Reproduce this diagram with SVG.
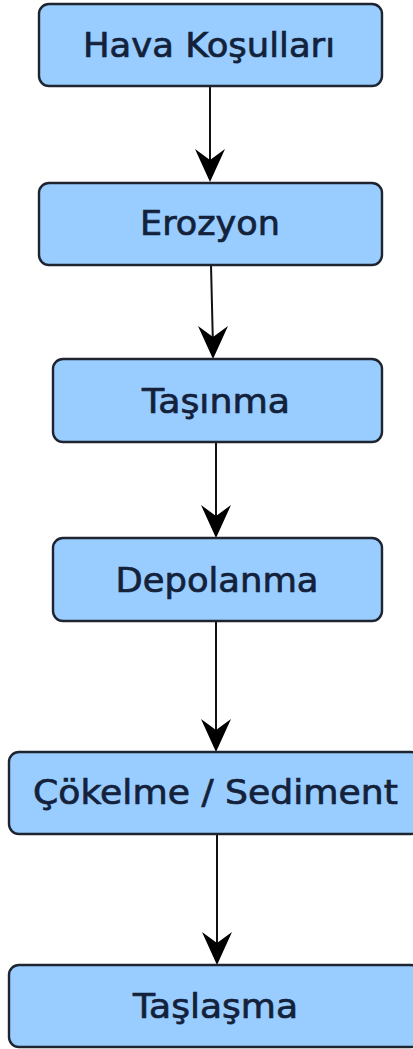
<svg xmlns="http://www.w3.org/2000/svg" width="413" height="1049" viewBox="0 0 413 1049">
<style>
.box{fill:#99ccff;stroke:#1e2530;stroke-width:2.4}
.lbl{font-family:"DejaVu Sans","Liberation Sans",sans-serif;font-size:34px;fill:#13223a;stroke:#13223a;stroke-width:0.7;text-anchor:middle}
.edge{stroke:#111;stroke-width:2;fill:none}
.head{fill:#000}
</style>
<defs>
<path id="ah" d="M0,0 L-15,-33 L0,-22 L15,-33 Z"/>
</defs>
<rect x="0" y="0" width="413" height="1049" fill="#ffffff"/>
<g id="connectors">
<line class="edge" x1="210" y1="86" x2="210" y2="170"/>
<use href="#ah" class="head" transform="translate(210,182)"/>
<line class="edge" x1="211" y1="265" x2="213" y2="347"/>
<use href="#ah" class="head" transform="translate(213,359)"/>
<line class="edge" x1="216" y1="442" x2="216" y2="526"/>
<use href="#ah" class="head" transform="translate(216,538)"/>
<line class="edge" x1="216" y1="621" x2="216" y2="740"/>
<use href="#ah" class="head" transform="translate(216,752)"/>
<line class="edge" x1="217" y1="834" x2="217" y2="953"/>
<use href="#ah" class="head" transform="translate(217,965)"/>
</g>
<g id="n1"><rect class="box" x="39" y="4" width="343" height="82" rx="10"/><text class="lbl" x="209" y="57" textLength="252" lengthAdjust="spacingAndGlyphs">Hava Koşulları</text></g>
<g id="n2"><rect class="box" x="39" y="183" width="343" height="82" rx="10"/><text class="lbl" x="210" y="235" textLength="140" lengthAdjust="spacingAndGlyphs">Erozyon</text></g>
<g id="n3"><rect class="box" x="53" y="359" width="329" height="83" rx="10"/><text class="lbl" x="216" y="413" textLength="148" lengthAdjust="spacingAndGlyphs">Taşınma</text></g>
<g id="n4"><rect class="box" x="53" y="538" width="329" height="83" rx="10"/><text class="lbl" x="217" y="592" textLength="203" lengthAdjust="spacingAndGlyphs">Depolanma</text></g>
<g id="n5"><rect class="box" x="9" y="752" width="412" height="82" rx="10"/><text class="lbl" x="215.5" y="804" textLength="365" lengthAdjust="spacingAndGlyphs">Çökelme / Sediment</text></g>
<g id="n6"><rect class="box" x="9" y="965" width="412" height="82" rx="10"/><text class="lbl" x="215.5" y="1018" textLength="165" lengthAdjust="spacingAndGlyphs">Taşlaşma</text></g>
</svg>
